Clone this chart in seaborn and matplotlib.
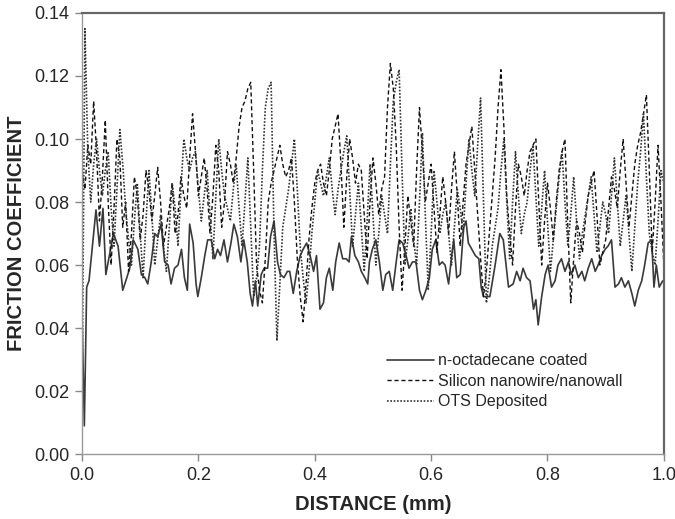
import numpy as np
import pandas as pd
import matplotlib
matplotlib.use("Agg")
import matplotlib.pyplot as plt
import seaborn as sns

# n-octadecane coated (solid)
octa_x = [0.000, 0.004, 0.008, 0.012, 0.019, 0.024, 0.030, 0.036, 0.041, 0.048,
          0.054, 0.062, 0.070, 0.077, 0.082, 0.088, 0.096, 0.102, 0.108, 0.113,
          0.119, 0.125, 0.130, 0.136, 0.142, 0.148, 0.153, 0.159, 0.165, 0.171,
          0.176, 0.181, 0.185, 0.191, 0.196, 0.199, 0.205, 0.211, 0.216, 0.222,
          0.228, 0.233, 0.238, 0.244, 0.250, 0.256, 0.261, 0.267, 0.273, 0.278,
          0.284, 0.289, 0.293, 0.298, 0.302, 0.308, 0.313, 0.319, 0.324, 0.330,
          0.336, 0.341, 0.347, 0.353, 0.357, 0.363, 0.369, 0.375, 0.380, 0.386,
          0.392, 0.398, 0.403, 0.409, 0.415, 0.420, 0.425, 0.431, 0.436, 0.442,
          0.448, 0.454, 0.459, 0.463, 0.469, 0.475, 0.480, 0.486, 0.491, 0.494,
          0.499, 0.505, 0.511, 0.517, 0.522, 0.528, 0.534, 0.540, 0.545, 0.551,
          0.557, 0.562, 0.568, 0.574, 0.580, 0.585, 0.591, 0.597, 0.602, 0.608,
          0.614, 0.619, 0.624, 0.630, 0.636, 0.639, 0.644, 0.650, 0.656, 0.660,
          0.664, 0.670, 0.676, 0.682, 0.686, 0.690, 0.696, 0.701, 0.710, 0.718,
          0.724, 0.733, 0.741, 0.747, 0.753, 0.758, 0.764, 0.770, 0.776, 0.780,
          0.784, 0.790, 0.796, 0.801, 0.807, 0.813, 0.818, 0.824, 0.830, 0.836,
          0.841, 0.847, 0.853, 0.859, 0.864, 0.870, 0.876, 0.882, 0.887, 0.893,
          0.899, 0.904, 0.910, 0.916, 0.922, 0.927, 0.933, 0.939, 0.945, 0.950,
          0.956, 0.962, 0.967, 0.973, 0.979, 0.983, 0.987, 0.992, 0.998]
octa_y = [0.045, 0.009, 0.053, 0.055, 0.068, 0.0775, 0.066, 0.078, 0.057, 0.064,
          0.070, 0.066, 0.052, 0.056, 0.059, 0.068, 0.065, 0.057, 0.056, 0.054,
          0.061, 0.070, 0.069, 0.073, 0.061, 0.060, 0.054, 0.059, 0.060, 0.065,
          0.056, 0.052, 0.073, 0.067, 0.054, 0.050, 0.056, 0.063, 0.068, 0.068,
          0.062, 0.065, 0.063, 0.068, 0.061, 0.067, 0.073, 0.069, 0.061, 0.068,
          0.061, 0.051, 0.047, 0.055, 0.047, 0.057, 0.059, 0.059, 0.069, 0.074,
          0.061, 0.057, 0.056, 0.058, 0.058, 0.051, 0.058, 0.063, 0.065, 0.067,
          0.063, 0.058, 0.063, 0.046, 0.048, 0.056, 0.059, 0.052, 0.061, 0.067,
          0.062, 0.062, 0.061, 0.069, 0.063, 0.061, 0.058, 0.056, 0.054, 0.061,
          0.065, 0.068, 0.061, 0.052, 0.057, 0.058, 0.052, 0.061, 0.068, 0.067,
          0.063, 0.059, 0.061, 0.061, 0.052, 0.049, 0.052, 0.056, 0.065, 0.068,
          0.060, 0.061, 0.060, 0.054, 0.064, 0.068, 0.056, 0.057, 0.072, 0.074,
          0.067, 0.065, 0.063, 0.062, 0.053, 0.050, 0.050, 0.050, 0.060, 0.070,
          0.068, 0.053, 0.054, 0.058, 0.055, 0.059, 0.056, 0.055, 0.046, 0.049,
          0.041, 0.050, 0.057, 0.060, 0.053, 0.055, 0.060, 0.062, 0.058, 0.061,
          0.057, 0.060, 0.056, 0.058, 0.055, 0.059, 0.062, 0.058, 0.060, 0.063,
          0.065, 0.066, 0.068, 0.053, 0.054, 0.056, 0.053, 0.055, 0.051, 0.047,
          0.052, 0.055, 0.060, 0.067, 0.068, 0.053, 0.060, 0.053, 0.055]

# Silicon nanowire/nanowall (dashed), sampled every 0.005 mm
silicon_y = [0.090, 0.084, 0.098, 0.092, 0.112, 0.096, 0.074, 0.088, 0.106, 0.080,
             0.060, 0.078, 0.100, 0.094, 0.072, 0.080, 0.058, 0.070, 0.088, 0.082,
             0.068, 0.076, 0.090, 0.084, 0.074, 0.082, 0.091, 0.080, 0.066, 0.072,
             0.078, 0.086, 0.070, 0.076, 0.088, 0.082, 0.078, 0.094, 0.108, 0.096,
             0.082, 0.088, 0.094, 0.084, 0.070, 0.082, 0.098, 0.090, 0.072, 0.080,
             0.096, 0.092, 0.086, 0.094, 0.104, 0.110, 0.112, 0.116, 0.118, 0.090,
             0.060, 0.052, 0.048, 0.062, 0.080, 0.086, 0.090, 0.094, 0.098, 0.092,
             0.088, 0.090, 0.094, 0.080, 0.062, 0.050, 0.042, 0.054, 0.068, 0.078,
             0.086, 0.090, 0.092, 0.086, 0.082, 0.090, 0.100, 0.104, 0.108, 0.092,
             0.072, 0.088, 0.100, 0.094, 0.086, 0.092, 0.090, 0.076, 0.062, 0.080,
             0.094, 0.086, 0.076, 0.084, 0.088, 0.110, 0.124, 0.116, 0.098, 0.072,
             0.052, 0.066, 0.082, 0.074, 0.066, 0.090, 0.110, 0.096, 0.080, 0.086,
             0.092, 0.078, 0.064, 0.076, 0.088, 0.080, 0.070, 0.084, 0.096, 0.082,
             0.066, 0.080, 0.092, 0.098, 0.104, 0.090, 0.076, 0.062, 0.050, 0.058,
             0.070, 0.082, 0.094, 0.110, 0.122, 0.104, 0.082, 0.070, 0.060, 0.078,
             0.092, 0.088, 0.082, 0.090, 0.096, 0.098, 0.100, 0.080, 0.060, 0.074,
             0.086, 0.078, 0.068, 0.080, 0.090, 0.096, 0.100, 0.072, 0.048, 0.062,
             0.074, 0.070, 0.064, 0.074, 0.082, 0.086, 0.090, 0.076, 0.060, 0.064,
             0.068, 0.078, 0.088, 0.084, 0.078, 0.090, 0.100, 0.086, 0.072, 0.082,
             0.092, 0.098, 0.102, 0.108, 0.114, 0.090, 0.064, 0.080, 0.098, 0.080,
             0.060]
silicon_x = np.linspace(0.0, 1.0, len(silicon_y))

# OTS Deposited (dotted), sampled every 0.005 mm
ots_y = [0.014, 0.135, 0.096, 0.080, 0.092, 0.100, 0.090, 0.082, 0.090, 0.096,
         0.078, 0.066, 0.084, 0.103, 0.092, 0.078, 0.068, 0.060, 0.074, 0.086,
         0.070, 0.056, 0.074, 0.090, 0.076, 0.060, 0.068, 0.076, 0.066, 0.058,
         0.072, 0.086, 0.078, 0.066, 0.084, 0.100, 0.094, 0.090, 0.094, 0.096,
         0.084, 0.074, 0.082, 0.090, 0.076, 0.062, 0.082, 0.100, 0.090, 0.082,
         0.078, 0.074, 0.084, 0.092, 0.078, 0.066, 0.080, 0.094, 0.072, 0.050,
         0.056, 0.066, 0.090, 0.110, 0.116, 0.118, 0.070, 0.036, 0.054, 0.072,
         0.078, 0.084, 0.092, 0.100, 0.084, 0.066, 0.056, 0.048, 0.058, 0.070,
         0.080, 0.090, 0.086, 0.082, 0.088, 0.094, 0.084, 0.076, 0.084, 0.090,
         0.096, 0.101, 0.084, 0.066, 0.076, 0.086, 0.072, 0.058, 0.074, 0.092,
         0.076, 0.060, 0.070, 0.082, 0.076, 0.070, 0.092, 0.112, 0.118, 0.122,
         0.090, 0.060, 0.068, 0.078, 0.068, 0.060, 0.080, 0.102, 0.076, 0.052,
         0.070, 0.090, 0.080, 0.070, 0.076, 0.080, 0.070, 0.060, 0.072, 0.084,
         0.078, 0.070, 0.086, 0.100, 0.090, 0.082, 0.098, 0.113, 0.080, 0.048,
         0.056, 0.066, 0.072, 0.078, 0.090, 0.100, 0.080, 0.062, 0.080, 0.096,
         0.082, 0.070, 0.076, 0.080, 0.090, 0.098, 0.082, 0.066, 0.078, 0.090,
         0.074, 0.058, 0.068, 0.078, 0.088, 0.096, 0.080, 0.066, 0.076, 0.088,
         0.074, 0.062, 0.070, 0.076, 0.082, 0.088, 0.076, 0.064, 0.072, 0.080,
         0.076, 0.070, 0.082, 0.094, 0.080, 0.066, 0.074, 0.082, 0.070, 0.058,
         0.072, 0.086, 0.096, 0.108, 0.088, 0.070, 0.064, 0.060, 0.074, 0.090,
         0.086]
ots_x = np.linspace(0.0, 1.0, len(ots_y))

sns.set_style("white")
plt.rcParams["font.family"] = ["Liberation Sans", "DejaVu Sans"]

fig = plt.figure(figsize=(6.75, 5.19), dpi=100)
ax = fig.add_axes([0.1215, 0.125, 0.862, 0.85])

sns.lineplot(x=octa_x, y=octa_y, ax=ax, color="#3a3a3a", linewidth=1.2,
             label="n-octadecane coated")
sns.lineplot(x=silicon_x, y=silicon_y, ax=ax, color="#111111", linewidth=1.0,
             linestyle=(0, (3, 2)), label="Silicon nanowire/nanowall")
sns.lineplot(x=ots_x, y=ots_y, ax=ax, color="#333333", linewidth=1.2,
             linestyle=(0, (1, 1)), label="OTS Deposited")

ax.set_xlim(0, 1.0)
ax.set_ylim(0, 0.14)
ax.set_xticks(np.arange(0, 1.01, 0.2))
ax.set_yticks(np.arange(0, 0.141, 0.02))
ax.set_xticklabels([f"{v:.1f}" for v in np.arange(0, 1.01, 0.2)])
ax.set_yticklabels([f"{v:.2f}" for v in np.arange(0, 0.141, 0.02)])
ax.tick_params(axis="both", which="both", direction="out", length=5, width=1,
               color="#888888", labelsize=13, pad=4, bottom=True, left=True)

for side in ["left", "bottom"]:
  ax.spines[side].set_color("#999999")
  ax.spines[side].set_linewidth(1.0)
for side in ["top", "right"]:
  ax.spines[side].set_color("#666666")
  ax.spines[side].set_linewidth(1.6)

ax.set_xlabel("DISTANCE (mm)", fontsize=14.5, fontweight="bold", labelpad=8)
ax.set_ylabel("FRICTION COEFFICIENT", fontsize=14.5, fontweight="bold", labelpad=6)

ax.legend(loc="center left", bbox_to_anchor=(0.50, 0.165), frameon=False,
          handlelength=2.9, handletextpad=0.3, labelspacing=0.35, fontsize=11.5)

plt.savefig("out.png", dpi=100)
plt.close()
